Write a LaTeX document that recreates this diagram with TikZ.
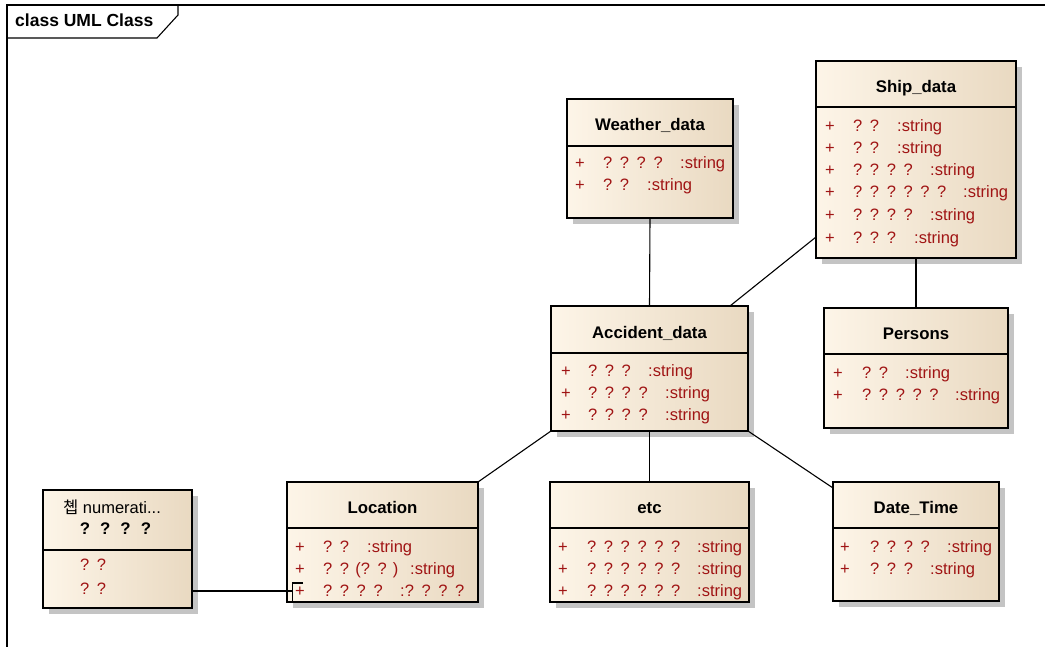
\documentclass[tikz,border=0pt]{standalone}
\usepackage{fontspec}
\setmainfont{Liberation Sans}
\newfontfamily\krfont{Noto Sans CJK KR}
\usetikzlibrary{shadows,calc}
\definecolor{boxleft}{RGB}{253,245,232}
\definecolor{boxright}{RGB}{233,217,193}
\definecolor{attrred}{RGB}{160,20,20}
\definecolor{shadowgray}{RGB}{196,196,196}
% gap between the placeholder glyphs of a member name
\newcommand\gp{\hspace{7.6pt}}
\newcommand\gpb{\hspace{10pt}}
% class box: name, x1, y1, x2, y2, y of the divider, title
\newcommand\umlclass[7]{%
  \node[classbox, minimum width={#4-#2}, minimum height={#5-#3}] (#1) at (#2,#3) {};
  \draw[divider] (#2,#6) -- (#4,#6);
  \node[clstitle] at ({(#2+#4)/2}, {(#3+#6)/2+8.5}) {#7};
}
% attribute row: x of '+', x of name, x of type, y centre, name, type
\newcommand\attrrow[6]{%
  \node[attrtext] at (#1,#4+6) {+};
  \node[attrtext] at (#2,#4+6) {#5};
  \node[attrtext] at (#3,#4+6) {#6};
}
\begin{document}
\begin{tikzpicture}[x=1pt,y=-1pt,
  classbox/.style={draw=black, line width=1.3pt, left color=boxleft, right color=boxright,
    anchor=north west, outer sep=0pt, inner sep=0pt,
    drop shadow={shadow xshift=6pt, shadow yshift=-6pt, fill=shadowgray, opacity=1}},
  divider/.style={line width=1.1pt},
  clstitle/.style={font=\fontsize{16.8}{20}\selectfont\bfseries, anchor=base, inner sep=0pt},
  attrtext/.style={font=\fontsize{16.5}{20}\selectfont, text=attrred, anchor=base west, inner sep=0pt},
  conn/.style={draw=black, line width=1.1pt}]
\useasboundingbox (0,0) rectangle (1045,647);
\fill[white] (0,0) rectangle (1045,647);

% diagram frame and its name tab
\draw[line width=1.1pt] (7,647) -- (7,5) -- (1045,5);
\draw[line width=1.1pt] (7,38) -- (157,38) -- (178,15) -- (178,5);
\node[font=\fontsize{17.5}{20}\selectfont\bfseries, anchor=base west, inner sep=0pt] (frametitle) at (15,27) {class UML Class};

% enumeration
\node[classbox, minimum width=149, minimum height=118] (enum) at (43,490) {};
\draw[divider] (43,550) -- (192,550);
\node[font=\fontsize{16.5}{20}\selectfont, anchor=base, inner sep=0pt] (enumstereo) at (112,513) {{\krfont 쳽} numerati...};
\node[clstitle] (enumname) at (115.5,534) {?\gpb?\gpb?\gpb?};
\node[attrtext] at (80,570) {?\gp?};
\node[attrtext] at (80,594) {?\gp?};

% classes
\umlclass{weather}{567}{99}{733}{218}{146}{Weather\_data}
\attrrow{575}{603}{680}{163}{?\gp?\gp?\gp?}{:string}
\attrrow{575}{603}{647}{185}{?\gp?}{:string}

\umlclass{ship}{816}{61}{1016}{258}{107}{Ship\_data}
\attrrow{825}{853}{897}{126}{?\gp?}{:string}
\attrrow{825}{853}{897}{148}{?\gp?}{:string}
\attrrow{825}{853}{930}{170}{?\gp?\gp?\gp?}{:string}
\attrrow{825}{853}{963}{192}{?\gp?\gp?\gp?\gp?\gp?}{:string}
\attrrow{825}{853}{930}{215}{?\gp?\gp?\gp?}{:string}
\attrrow{825}{853}{914}{238}{?\gp?\gp?}{:string}

\umlclass{accident}{551}{306}{748}{431}{353}{Accident\_data}
\attrrow{561}{588}{648}{370}{?\gp?\gp?}{:string}
\attrrow{561}{588}{665}{392}{?\gp?\gp?\gp?}{:string}
\attrrow{561}{588}{665}{414}{?\gp?\gp?\gp?}{:string}

\umlclass{persons}{824}{308}{1008}{428}{354}{Persons}
\attrrow{833}{862}{905}{372}{?\gp?}{:string}
\attrrow{833}{862}{955}{394}{?\gp?\gp?\gp?\gp?}{:string}

\umlclass{location}{287}{482}{478}{602}{528}{Location}
\attrrow{295}{323}{367}{546}{?\gp?}{:string}
\attrrow{295}{323}{410}{568}{?\gp? (?\gp? )}{:string}
\attrrow{295}{323}{400}{590}{?\gp?\gp?\gp?}{:?\gp?\gp?\gp?}

\umlclass{etc}{550}{482}{749}{602}{528}{etc}
\attrrow{558}{587}{697}{546}{?\gp?\gp?\gp?\gp?\gp?}{:string}
\attrrow{558}{587}{697}{568}{?\gp?\gp?\gp?\gp?\gp?}{:string}
\attrrow{558}{587}{697}{590}{?\gp?\gp?\gp?\gp?\gp?}{:string}

\umlclass{datetime}{833}{482}{999}{601}{528}{Date\_Time}
\attrrow{840}{870}{947}{546}{?\gp?\gp?\gp?}{:string}
\attrrow{840}{870}{930}{568}{?\gp?\gp?}{:string}

% associations
\draw[conn] (weather.south) -- (accident.north);
\draw[conn] ($(ship.south west)+(0,-21)$) -- ($(accident.north east)+(-18,0)$);
\draw[conn] (ship.south) -- (persons.north);
\draw[conn] (accident.south west) -- (location.north east);
\draw[conn] (accident.south) -- (etc.north);
\draw[conn] (accident.south east) -- ($(datetime.north west)+(0,6)$);

% link from the enumeration to the attribute that uses it
\coordinate (attrlink) at (292.5,591);
\draw[conn] ($(enum.south east)+(0,-17)$) -- (attrlink);
\draw[conn] (303,583) -- (292.5,583) -- (292.5,602) -- (303,602);
\end{tikzpicture}
\end{document}
